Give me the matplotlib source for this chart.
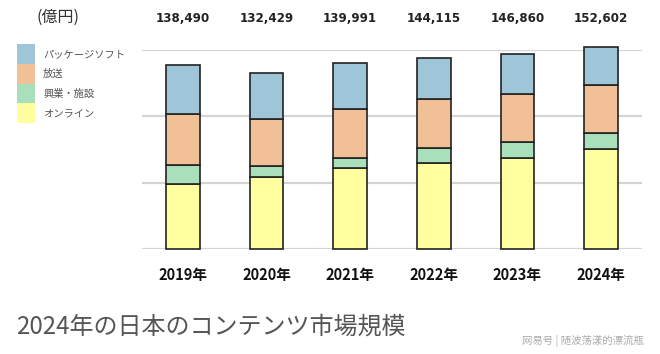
import matplotlib
matplotlib.use("Agg")
import matplotlib.pyplot as plt
from matplotlib.patches import Rectangle
from matplotlib.transforms import blended_transform_factory
import numpy as np

plt.rcParams['font.family'] = ['Noto Sans CJK JP', 'DejaVu Sans']

years = ["2019年", "2020年", "2021年", "2022年", "2023年", "2024年"]
totals = ["138,490", "132,429", "139,991", "144,115", "146,860", "152,602"]
series_names = ["オンライン", "興業・施設", "放送", "パッケージソフト"]
online = [48800, 54500, 60800, 65000, 68800, 75100]
venue = [14300, 7800, 8000, 10850, 11800, 12500]
broadcast = [38600, 35400, 37000, 37150, 36200, 36300]
package = [36790, 34729, 34191, 31115, 30060, 28702]
colors = ["#ffffa0", "#a9dfba", "#f2c096", "#9ec6d8"]
unit_label = "(億円)"
title = "2024年の日本のコンテンツ市場規模"
watermark = "网易号 | 随波荡漾的漂流瓶"

W, H = 660, 354
fig = plt.figure(figsize=(6.6, 3.54), dpi=100)
fig.patch.set_facecolor("white")

ax = fig.add_axes([142 / W, 1 - 249 / H, 500 / W, 199 / H])
ax.set_xlim(-0.49, 5.49)
ax.set_ylim(0, 150000)
for s in ax.spines.values():
    s.set_visible(False)
ax.set_xticks([])
ax.set_yticks([])
for g in [0, 50000, 100000, 150000]:
    ax.axhline(g, color="#d4d4d4", lw=1.6, zorder=0)

x = np.arange(len(years))
bottom = np.zeros(len(years))
for vals, c in zip([online, venue, broadcast, package], colors):
    ax.bar(x, vals, width=0.4, bottom=bottom, color=c, edgecolor="#222222",
           linewidth=1.2, zorder=3, clip_on=False)
    bottom += np.array(vals)

trans = blended_transform_factory(ax.transData, ax.transAxes)
for i, (t, yl) in enumerate(zip(totals, years)):
    ax.text(i, 1 + 32 / 199, t, transform=trans, ha="center", va="center",
            fontsize=8.6, fontweight="bold", family="DejaVu Sans", color="#222222")
    ax.text(i, -26 / 199, yl, transform=trans, ha="center", va="center",
            fontsize=10.5, fontweight="bold", color="#111111")

# unit label
fig.text(58 / W, 1 - 17 / H, unit_label, ha="center", va="center",
         fontsize=11.5, color="#333333")

# legend
legend_items = list(zip(series_names, colors))[::-1]
for k, (name, c) in enumerate(legend_items):
    y0 = 44 + k * 19.8
    fig.add_artist(Rectangle((17 / W, 1 - (y0 + 19.8) / H), 18 / W, 19.8 / H,
                             transform=fig.transFigure, facecolor=c,
                             edgecolor="none"))
    fig.text(43 / W, 1 - (y0 + 9.9) / H, name, ha="left", va="center",
             fontsize=7.4, color="#555555")

fig.text(16 / W, 1 - 327 / H, title, ha="left", va="center",
         fontsize=17.3, color="#555555")
fig.text(522 / W, 1 - 341 / H, watermark, ha="left", va="center",
         fontsize=7.5, color="#aaaaaa",
         family=['Noto Sans CJK SC', 'DejaVu Sans'])

fig.savefig("out.png", dpi=100, facecolor="white")
